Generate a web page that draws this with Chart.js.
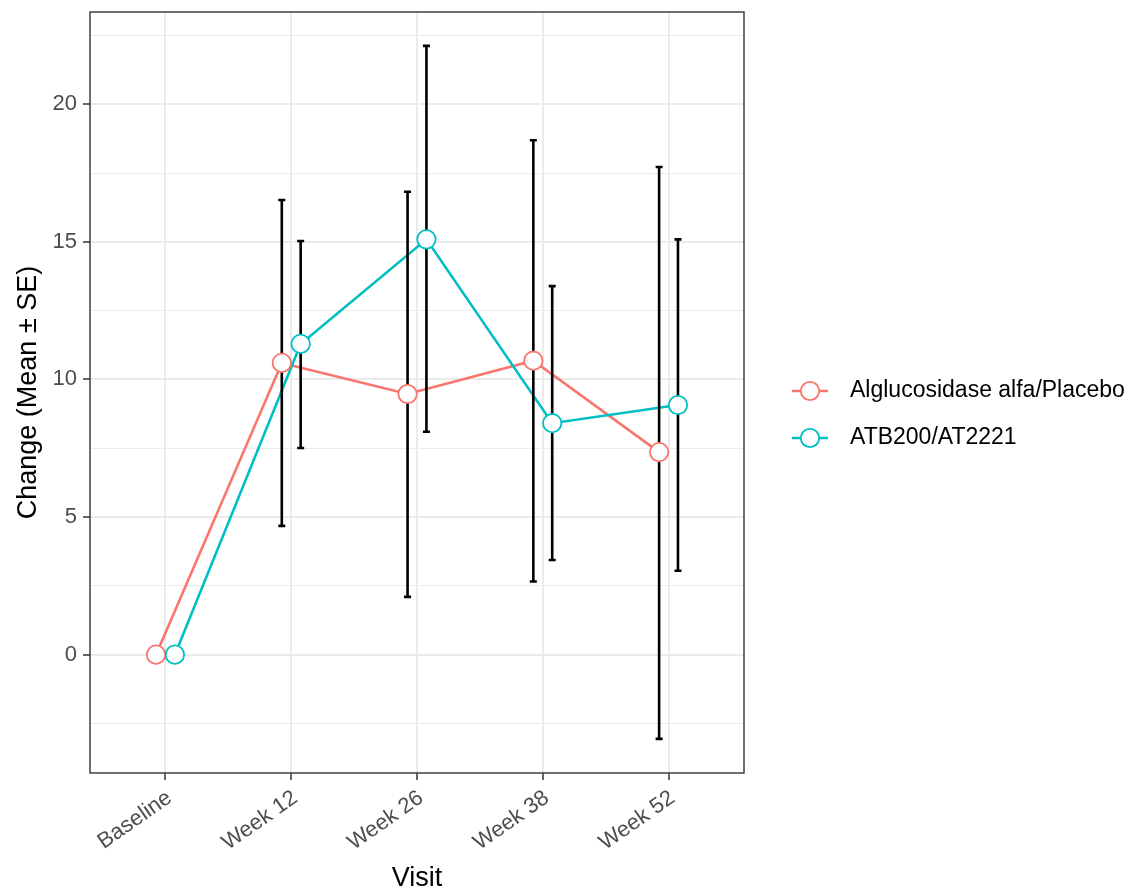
<!DOCTYPE html>
<html>
<head>
<meta charset="utf-8">
<script src="https://cdn.jsdelivr.net/npm/chart.js@4/dist/chart.umd.min.js"></script>
<style>
  html, body { margin: 0; background: #fff; }
  #wrap { width: 1129px; height: 895px; }
</style>
</head>
<body>
<div id="wrap"><canvas id="chart" width="1129" height="895"></canvas></div>
<script>
'use strict';

// ─── Data ────────────────────────────────────────────────
const visits = ['Baseline', 'Week 12', 'Week 26', 'Week 38', 'Week 52'];
const seriesNames = ['Alglucosidase alfa/Placebo', 'ATB200/AT2221'];

const placeboMean = [0, 10.60, 9.47, 10.68, 7.36];
const placeboLow  = [null, 4.68, 2.10, 2.66, -3.06];
const placeboHigh = [null, 16.52, 16.82, 18.69, 17.72];

const atbMean = [0, 11.29, 15.09, 8.41, 9.07];
const atbLow  = [null, 7.51, 8.10, 3.44, 3.05];
const atbHigh = [null, 15.03, 22.12, 13.39, 15.09];

const yTicks = [-2.5, 0, 2.5, 5, 7.5, 10, 12.5, 15, 17.5, 20, 22.5];

// ─── Styling ─────────────────────────────────────────────
const RED = '#F8766D';
const TEAL = '#00BFC4';
const DODGE = 0.075;
const FONT = "'Liberation Sans', Arial, sans-serif";

const groups = [
  { name: seriesNames[0], color: RED,  shift: -DODGE, mean: placeboMean, low: placeboLow, high: placeboHigh },
  { name: seriesNames[1], color: TEAL, shift:  DODGE, mean: atbMean,     low: atbLow,     high: atbHigh },
];

const pts = g => visits.map((_, i) => ({ x: i + 1 + g.shift, y: g.mean[i] }));

// lines underneath, error bars in between, points on top
const datasets = [];
groups.forEach((g, k) => {
  datasets.push({
    data: pts(g), showLine: true, borderColor: g.color, borderWidth: 2.6,
    pointRadius: 0, order: 4 - k,
  });
});
groups.forEach((g, k) => {
  datasets.push({
    data: pts(g), showLine: false, pointRadius: 9.2, pointHoverRadius: 9.2,
    pointBorderWidth: 1.8, pointBorderColor: g.color, pointBackgroundColor: '#ffffff',
    order: 2 - k, errorBarsBelow: k === 0,
  });
});

// ─── Plugins ─────────────────────────────────────────────
const errorBarPlugin = {
  id: 'errorBars',
  beforeDatasetDraw(chart, args) {
    if (!chart.data.datasets[args.index].errorBarsBelow) return;
    const { ctx: c, scales: { x, y } } = chart;
    c.save();
    c.strokeStyle = '#000000';
    c.lineWidth = 2.6;
    groups.forEach(g => {
      visits.forEach((_, i) => {
        if (g.low[i] == null) return;
        const px = x.getPixelForValue(i + 1 + g.shift);
        const y1 = y.getPixelForValue(g.low[i]);
        const y2 = y.getPixelForValue(g.high[i]);
        c.beginPath();
        c.moveTo(px, y1); c.lineTo(px, y2);
        c.moveTo(px - 3.5, y1); c.lineTo(px + 3.5, y1);
        c.moveTo(px - 3.5, y2); c.lineTo(px + 3.5, y2);
        c.stroke();
      });
    });
    c.restore();
  },
};

const panelPlugin = {
  id: 'panelBorder',
  afterDatasetsDraw(chart) {
    const { ctx: c, chartArea: { left, top, right, bottom } } = chart;
    c.save();
    c.strokeStyle = '#333333';
    c.lineWidth = 1.4;
    c.strokeRect(left, top, right - left, bottom - top);
    c.restore();
  },
};

const legendPlugin = {
  id: 'sideLegend',
  afterDraw(chart) {
    const c = chart.ctx;
    c.save();
    groups.forEach((g, k) => {
      const cy = 391 + k * 47;
      c.strokeStyle = g.color;
      c.lineWidth = 2.6;
      c.beginPath(); c.moveTo(792, cy); c.lineTo(828, cy); c.stroke();
      c.fillStyle = '#ffffff';
      c.lineWidth = 1.8;
      c.beginPath(); c.arc(810, cy, 9.2, 0, Math.PI * 2); c.fill(); c.stroke();
      c.fillStyle = '#000000';
      c.font = `23px ${FONT}`;
      c.textBaseline = 'middle';
      c.fillText(g.name, 850, cy);
    });
    c.restore();
  },
};

// ─── Chart ───────────────────────────────────────────────
new Chart(document.getElementById('chart'), {
  type: 'scatter',
  data: { datasets },
  plugins: [errorBarPlugin, panelPlugin, legendPlugin],
  options: {
    responsive: false,
    animation: false,
    events: [],
    layout: { autoPadding: false, padding: { left: 0, right: 385, top: 12, bottom: 0 } },
    plugins: { legend: { display: false }, tooltip: { enabled: false } },
    scales: {
      x: {
        type: 'linear', min: 0.4, max: 5.6,
        afterBuildTicks: s => { s.ticks = visits.map((_, i) => ({ value: i + 1 })); },
        afterFit: s => { s.height = 122; s.paddingLeft = 0; s.paddingRight = 0; },
        border: { display: false },
        grid: { color: '#EBEBEB', lineWidth: 2, tickColor: '#333333', tickLength: 7, tickWidth: 1.5 },
        ticks: {
          autoSkip: false, minRotation: 35, maxRotation: 35, padding: 5, labelOffset: 4,
          color: '#4D4D4D', font: { family: FONT, size: 22 },
          callback: v => visits[v - 1],
        },
        title: { display: true, text: 'Visit', color: '#000000', font: { family: FONT, size: 27 }, padding: { top: 0, bottom: 0 } },
      },
      y: {
        min: -4.3, max: 23.35,
        afterBuildTicks: s => { s.ticks = yTicks.map(v => ({ value: v })); },
        afterFit: s => { s.width = 90; s.paddingTop = 0; s.paddingBottom = 0; },
        border: { display: false },
        grid: {
          color: '#EBEBEB',
          lineWidth: ctx => (ctx.tick && ctx.tick.value % 5 === 0 ? 2 : 1),
          tickColor: ctx => (ctx.tick && ctx.tick.value % 5 === 0 ? '#333333' : 'rgba(0,0,0,0)'),
          tickLength: 7, tickWidth: 1.5,
        },
        ticks: {
          padding: 6, color: '#4D4D4D', font: { family: FONT, size: 22 },
          callback: v => (v % 5 === 0 ? String(v) : ''),
        },
        title: { display: true, text: 'Change (Mean ± SE)', color: '#000000', font: { family: FONT, size: 27 }, padding: { top: 12, bottom: 0 } },
      },
    },
  },
});
</script>
</body>
</html>
